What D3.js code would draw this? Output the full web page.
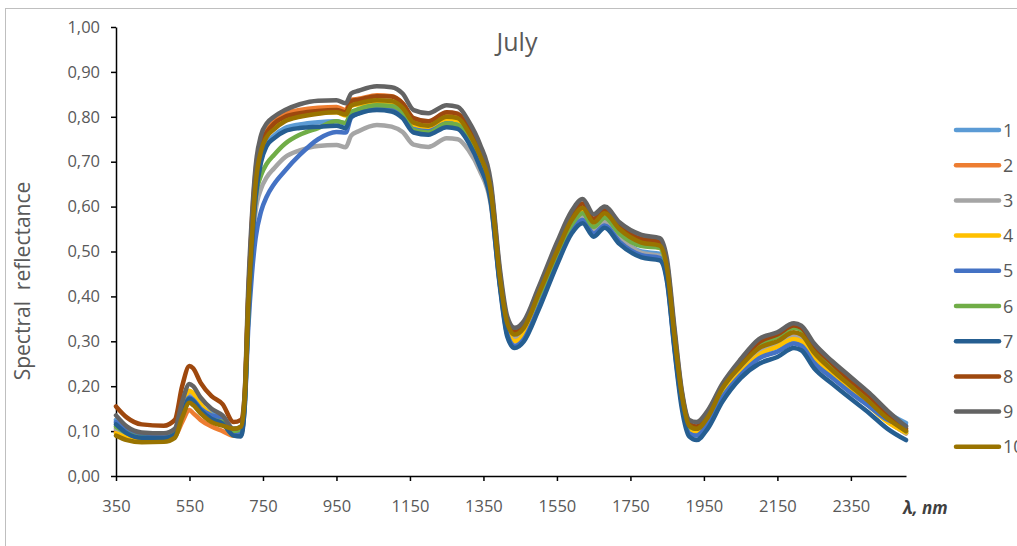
<!DOCTYPE html>
<html>
<head>
<meta charset="utf-8">
<script src="https://cdn.jsdelivr.net/npm/d3@7"></script>
<style>
  body { margin: 0; background: #fff; }
  svg { display: block; font-family: "Open Sans", "Noto Sans", sans-serif; }
</style>
</head>
<body>
<svg id="chart" width="1017" height="546"></svg>
<script>
const wavelengths = [350, 380, 420, 480, 510, 530, 550, 560, 580, 610, 640, 670, 690, 700, 710, 720, 730, 745, 760, 780,
  810, 850, 900, 950, 975, 990, 1010, 1060, 1100, 1130, 1160, 1200, 1250, 1280, 1310, 1340, 1370, 1395, 1415, 1435,
  1460, 1500, 1550, 1590, 1620, 1650, 1680, 1720, 1780, 1830, 1850, 1870, 1890, 1910, 1930, 1960, 2000, 2050, 2100, 2150,
  2195, 2215, 2250, 2300, 2350, 2400, 2450, 2500];

const seriesNames = ["1", "2", "3", "4", "5", "6", "7", "8", "9", "10"];
const colors = ["#5B9BD5", "#ED7D31", "#A5A5A5", "#FFC000", "#4472C4", "#70AD47", "#255E91", "#9E480E", "#636363", "#997300"];

const s1 = [0.125, 0.105, 0.092, 0.09, 0.10, 0.145, 0.182, 0.177, 0.157, 0.14, 0.13, 0.105, 0.105, 0.16, 0.37, 0.52, 0.63, 0.71, 0.74, 0.758,
  0.775, 0.783, 0.788, 0.79, 0.785, 0.808, 0.813, 0.82, 0.818, 0.805, 0.775, 0.77, 0.79, 0.786, 0.755, 0.705, 0.625, 0.43, 0.335, 0.31,
  0.32, 0.39, 0.485, 0.55, 0.575, 0.545, 0.565, 0.53, 0.50, 0.495, 0.445, 0.30, 0.175, 0.115, 0.11, 0.14, 0.20, 0.243, 0.275, 0.288,
  0.30, 0.297, 0.262, 0.228, 0.196, 0.166, 0.14, 0.118];
const s2 = [0.10, 0.09, 0.082, 0.082, 0.088, 0.12, 0.147, 0.14, 0.125, 0.11, 0.10, 0.09, 0.095, 0.17, 0.40, 0.57, 0.68, 0.75, 0.77, 0.79,
  0.808, 0.815, 0.82, 0.822, 0.815, 0.838, 0.84, 0.848, 0.846, 0.83, 0.795, 0.788, 0.807, 0.803, 0.77, 0.72, 0.64, 0.44, 0.335, 0.305,
  0.32, 0.40, 0.50, 0.57, 0.595, 0.565, 0.583, 0.55, 0.52, 0.515, 0.46, 0.31, 0.175, 0.108, 0.10, 0.125, 0.19, 0.24, 0.28, 0.297,
  0.315, 0.31, 0.27, 0.23, 0.195, 0.16, 0.123, 0.095];
const s3 = [0.105, 0.09, 0.083, 0.082, 0.092, 0.14, 0.18, 0.175, 0.155, 0.13, 0.12, 0.095, 0.09, 0.16, 0.35, 0.50, 0.59, 0.64, 0.665, 0.685,
  0.71, 0.725, 0.735, 0.737, 0.732, 0.758, 0.768, 0.782, 0.778, 0.766, 0.738, 0.733, 0.752, 0.75, 0.725, 0.68, 0.605, 0.425, 0.33, 0.31,
  0.32, 0.39, 0.49, 0.555, 0.578, 0.548, 0.567, 0.532, 0.497, 0.49, 0.44, 0.29, 0.165, 0.10, 0.095, 0.12, 0.185, 0.235, 0.275, 0.292,
  0.31, 0.305, 0.267, 0.228, 0.193, 0.158, 0.122, 0.095];
const s4 = [0.095, 0.085, 0.078, 0.078, 0.09, 0.155, 0.19, 0.185, 0.16, 0.135, 0.12, 0.09, 0.092, 0.165, 0.39, 0.55, 0.665, 0.735, 0.76, 0.778,
  0.795, 0.803, 0.808, 0.81, 0.803, 0.824, 0.828, 0.832, 0.83, 0.815, 0.783, 0.777, 0.795, 0.792, 0.76, 0.71, 0.63, 0.43, 0.325, 0.30,
  0.315, 0.39, 0.495, 0.565, 0.59, 0.56, 0.578, 0.545, 0.515, 0.508, 0.455, 0.30, 0.17, 0.103, 0.097, 0.12, 0.18, 0.23, 0.27, 0.288,
  0.305, 0.30, 0.262, 0.225, 0.19, 0.155, 0.12, 0.097];
const s5 = [0.12, 0.10, 0.09, 0.088, 0.097, 0.14, 0.175, 0.17, 0.15, 0.135, 0.13, 0.10, 0.095, 0.15, 0.33, 0.45, 0.53, 0.59, 0.622, 0.65,
  0.68, 0.715, 0.75, 0.766, 0.765, 0.798, 0.808, 0.818, 0.815, 0.80, 0.772, 0.768, 0.785, 0.78, 0.75, 0.70, 0.615, 0.425, 0.315, 0.29,
  0.305, 0.375, 0.475, 0.545, 0.57, 0.54, 0.558, 0.522, 0.492, 0.486, 0.435, 0.285, 0.16, 0.095, 0.09, 0.115, 0.175, 0.225, 0.262, 0.277,
  0.295, 0.29, 0.252, 0.218, 0.185, 0.155, 0.125, 0.112];
const s6 = [0.11, 0.095, 0.085, 0.083, 0.095, 0.135, 0.165, 0.16, 0.14, 0.125, 0.12, 0.10, 0.105, 0.16, 0.36, 0.52, 0.62, 0.67, 0.695, 0.715,
  0.74, 0.76, 0.775, 0.79, 0.786, 0.81, 0.817, 0.826, 0.824, 0.81, 0.77, 0.765, 0.785, 0.782, 0.752, 0.705, 0.63, 0.44, 0.345, 0.325,
  0.335, 0.40, 0.495, 0.56, 0.585, 0.555, 0.575, 0.54, 0.512, 0.508, 0.455, 0.305, 0.175, 0.11, 0.105, 0.132, 0.195, 0.25, 0.292, 0.31,
  0.33, 0.325, 0.285, 0.245, 0.207, 0.17, 0.132, 0.10];
const s7 = [0.115, 0.095, 0.085, 0.084, 0.093, 0.135, 0.172, 0.167, 0.147, 0.127, 0.117, 0.09, 0.088, 0.15, 0.36, 0.51, 0.62, 0.70, 0.735, 0.752,
  0.768, 0.775, 0.778, 0.78, 0.775, 0.80, 0.807, 0.815, 0.812, 0.797, 0.765, 0.76, 0.777, 0.773, 0.742, 0.69, 0.61, 0.42, 0.31, 0.285,
  0.30, 0.37, 0.47, 0.54, 0.563, 0.533, 0.553, 0.517, 0.487, 0.48, 0.43, 0.28, 0.15, 0.088, 0.08, 0.105, 0.165, 0.218, 0.25, 0.265,
  0.285, 0.28, 0.24, 0.205, 0.172, 0.14, 0.105, 0.08];
const s8 = [0.155, 0.13, 0.115, 0.112, 0.125, 0.20, 0.245, 0.24, 0.208, 0.178, 0.16, 0.12, 0.125, 0.18, 0.40, 0.56, 0.67, 0.74, 0.765, 0.785,
  0.80, 0.808, 0.813, 0.815, 0.81, 0.835, 0.838, 0.846, 0.845, 0.83, 0.797, 0.79, 0.81, 0.807, 0.775, 0.725, 0.645, 0.45, 0.345, 0.32,
  0.335, 0.41, 0.51, 0.58, 0.607, 0.573, 0.592, 0.557, 0.528, 0.522, 0.47, 0.32, 0.185, 0.118, 0.11, 0.138, 0.20, 0.255, 0.298, 0.315,
  0.335, 0.33, 0.29, 0.25, 0.212, 0.178, 0.138, 0.105];
const s9 = [0.135, 0.11, 0.097, 0.095, 0.105, 0.165, 0.205, 0.20, 0.175, 0.15, 0.135, 0.105, 0.11, 0.18, 0.42, 0.58, 0.69, 0.76, 0.785, 0.80,
  0.815, 0.828, 0.836, 0.837, 0.83, 0.852, 0.858, 0.868, 0.866, 0.852, 0.815, 0.808, 0.826, 0.822, 0.79, 0.74, 0.655, 0.46, 0.355, 0.33,
  0.345, 0.42, 0.52, 0.59, 0.617, 0.583, 0.60, 0.565, 0.537, 0.53, 0.48, 0.33, 0.19, 0.125, 0.12, 0.145, 0.205, 0.26, 0.305, 0.32,
  0.34, 0.335, 0.295, 0.255, 0.22, 0.185, 0.145, 0.11];
const s10 = [0.09, 0.08, 0.075, 0.076, 0.085, 0.13, 0.163, 0.158, 0.14, 0.12, 0.112, 0.105, 0.11, 0.17, 0.38, 0.53, 0.65, 0.725, 0.755, 0.772,
  0.79, 0.80, 0.807, 0.81, 0.805, 0.825, 0.83, 0.837, 0.835, 0.82, 0.787, 0.78, 0.80, 0.797, 0.765, 0.715, 0.635, 0.44, 0.34, 0.315,
  0.33, 0.405, 0.50, 0.57, 0.597, 0.565, 0.585, 0.55, 0.52, 0.513, 0.46, 0.31, 0.18, 0.112, 0.105, 0.13, 0.195, 0.245, 0.285, 0.30,
  0.32, 0.315, 0.275, 0.235, 0.20, 0.165, 0.128, 0.10];

const seriesValues = [s1, s2, s3, s4, s5, s6, s7, s8, s9, s10];
const xTicks = [350, 550, 750, 950, 1150, 1350, 1550, 1750, 1950, 2150, 2350];
const yTicks = [0, 0.1, 0.2, 0.3, 0.4, 0.5, 0.6, 0.7, 0.8, 0.9, 1.0];

const svg = d3.select("#chart");
const textColor = "#595959";

// chart frame
svg.append("rect")
  .attr("x", 5.5).attr("y", 8.5)
  .attr("width", 1040).attr("height", 560)
  .attr("fill", "none").attr("stroke", "#bfbfbf");

const x = d3.scaleLinear().domain([350, 2500]).range([116, 906]);
const y = d3.scaleLinear().domain([0, 1]).range([476, 27]);

const fmt = d => d3.format(".2f")(d).replace(".", ",");

const yAxis = svg.append("g")
  .attr("transform", "translate(116,0)")
  .call(d3.axisLeft(y).tickValues(yTicks).tickFormat(fmt).tickSize(5).tickPadding(11).tickSizeOuter(0));

const xAxis = svg.append("g")
  .attr("transform", "translate(0,476)")
  .call(d3.axisBottom(x).tickValues(xTicks).tickFormat(d3.format("d")).tickSize(5).tickPadding(19).tickSizeOuter(0));

[xAxis, yAxis].forEach(g => {
  g.select(".domain").attr("stroke", "#000").attr("stroke-width", 1.5);
  g.selectAll(".tick line").attr("stroke", "#000").attr("stroke-width", 1.5);
  g.selectAll(".tick text").attr("fill", textColor).attr("font-size", 16.5).attr("font-family", "Open Sans, sans-serif");
});

const line = d3.line()
  .x((d, i) => x(wavelengths[i]))
  .y(d => y(d))
  .curve(d3.curveMonotoneX);

svg.append("g")
  .selectAll("path")
  .data(seriesValues)
  .enter()
  .append("path")
  .attr("d", d => line(d))
  .attr("fill", "none")
  .attr("stroke", (d, i) => colors[i])
  .attr("stroke-width", 4.5)
  .attr("stroke-linejoin", "round")
  .attr("stroke-linecap", "round");

// title and axis labels
svg.append("text")
  .attr("x", 517).attr("y", 51)
  .attr("text-anchor", "middle")
  .attr("font-size", 25)
  .attr("fill", textColor)
  .text("July");

svg.append("text")
  .attr("transform", "translate(30,281) rotate(-90)")
  .attr("text-anchor", "middle")
  .attr("font-size", 21)
  .attr("fill", textColor)
  .style("white-space", "pre")
  .text("Spectral  reflectance");

svg.append("text")
  .attr("x", 903).attr("y", 514)
  .attr("font-size", 17)
  .attr("font-weight", "bold")
  .attr("font-style", "italic")
  .attr("fill", "#404040")
  .text("λ, nm");

// legend
const legend = svg.append("g")
  .selectAll("g")
  .data(seriesNames)
  .enter()
  .append("g")
  .attr("transform", (d, i) => `translate(0,${130 + i * 35.2})`);

legend.append("line")
  .attr("x1", 956).attr("x2", 999)
  .attr("stroke", (d, i) => colors[i])
  .attr("stroke-width", 4.5)
  .attr("stroke-linecap", "round");

legend.append("text")
  .attr("x", 1003).attr("y", 6.5)
  .attr("font-size", 18)
  .attr("fill", textColor)
  .text(d => d);
</script>
</body>
</html>
